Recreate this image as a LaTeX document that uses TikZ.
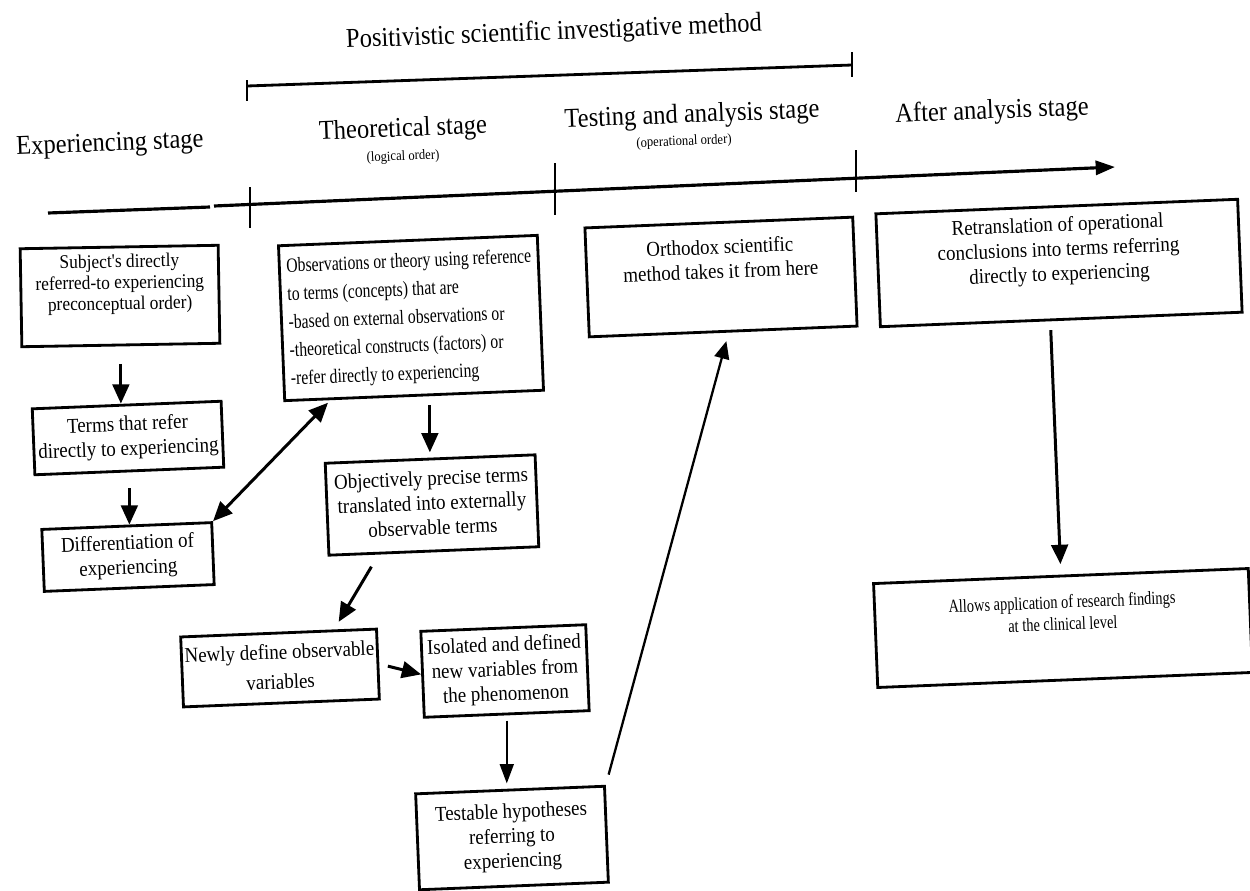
\documentclass[tikz,border=0pt]{standalone}
\usepackage{fontspec}
\setmainfont{Liberation Serif}
\newfontfamily\wideserif[FakeStretch=0.9]{Liberation Serif}
\newfontfamily\narrowserif[FakeStretch=0.78]{Liberation Serif}
\usetikzlibrary{arrows.meta,calc}
\newcommand{\boxlines}[2][0pt]{\begin{tabular}{@{}c@{}}#2\\[#1]\end{tabular}}
\newcommand{\leftlines}[1]{\begin{tabular}{@{}l@{}}#1\end{tabular}}
\tikzset{%
  stagelabel/.style={font=\wideserif\fontsize{15.5}{18}\selectfont, inner sep=0pt, rotate=2.3},%
  orderlabel/.style={font=\wideserif\fontsize{8}{9}\selectfont, inner sep=0pt, rotate=2.3},%
  stepbox/.style={draw, line width=1.6pt, inner sep=0pt, rotate=#1, font=\wideserif\fontsize{12}{14}\selectfont},%
  stepbox/.default=2.3,%
  flow/.style={line width=1.7pt, -{Triangle[length=11pt,width=9.5pt]}},%
  thinflow/.style={line width=0.9pt, -{Triangle[length=11pt,width=8pt]}},%
  longflow/.style={line width=1.3pt, -{Triangle[length=10pt,width=8.5pt]}},%
  axis/.style={line width=1.8pt},%
  tick/.style={line width=0.7pt}%
}
\begin{document}
\begin{tikzpicture}[x=0.2mm, y={(0mm,-0.2mm)}]%
\fill[white] (0,0) rectangle (1250,890);%
\useasboundingbox (0,0) rectangle (1250,890);%
\node[stagelabel] (method) at (554,33) {Positivistic scientific investigative method};%
\coordinate (method-l) at (247,86);%
\coordinate (method-r) at (852,65);%
\draw[line width=1.6pt] (method-l) -- (method-r);%
\draw[line width=1.1pt] ($(method-l)+(0,-6)$) -- ($(method-l)+(0,15)$);%
\draw[line width=1.1pt] ($(method-r)+(0,-13)$) -- ($(method-r)+(0,12)$);%
\node[stagelabel] (experiencing) at (110,145) {Experiencing stage};%
\node[stagelabel] (theoretical) at (403,130) {Theoretical stage};%
\node[orderlabel] (theoretical-order) at (403,157) {(logical order)};%
\node[stagelabel] (testing) at (692,116) {Testing and analysis stage};%
\node[orderlabel] (testing-order) at (684,142) {(operational order)};%
\node[stagelabel] (after) at (992,112) {After analysis stage};%
\coordinate (time-a) at (48,213);%
\coordinate (time-b) at (210,207);%
\coordinate (time-c) at (214,206);%
\coordinate (time-d) at (1115,167);%
\draw[axis] (time-a) -- (time-b);%
\draw[axis, -{Triangle[length=11pt,width=8pt]}] (time-c) -- (time-d);%
\foreach \x/\ya/\yb in {250/187/228, 555/163/215, 856/150/192} {%
  \draw[tick] (\x,\ya) -- (\x,\yb);%
}%
\node[stepbox=1, minimum width=39.6mm, minimum height=19.6mm, font=\wideserif\fontsize{11}{12}\selectfont] (subject) at (120,296) {\boxlines[13pt]{Subject's directly\\referred-to experiencing\\preconceptual order)}};%
\node[stepbox, minimum width=37.8mm, minimum height=13.2mm] (terms) at (128,438) {\boxlines{Terms that refer\\directly to experiencing}};%
\node[stepbox, minimum width=34mm, minimum height=12.4mm, font=\wideserif\fontsize{12}{14}\selectfont] (differ) at (128,557) {\boxlines{Differentiation of\\experiencing}};%
\node[stepbox, minimum width=51.8mm, minimum height=31mm, font=\narrowserif\fontsize{11.5}{16}\selectfont] (observ) at (411,318) {\leftlines{Observations or theory using reference\\to terms (concepts) that are\\-based on external observations or\\-theoretical constructs (factors) or\\-refer directly to experiencing}};%
\node[stepbox, minimum width=42mm, minimum height=18.4mm, font=\wideserif\fontsize{12}{14}\selectfont] (objective) at (432,505) {\boxlines{Objectively precise terms\\translated into externally\\observable terms}};%
\node[stepbox, minimum width=39.2mm, minimum height=14mm, font=\wideserif\fontsize{12}{17}\selectfont] (newly) at (280,668) {\boxlines{Newly define observable\\variables}};%
\node[stepbox, minimum width=33mm, minimum height=17.2mm, font=\wideserif\fontsize{12}{14}\selectfont] (isolated) at (505,671) {\boxlines{Isolated and defined\\new variables from\\the phenomenon}};%
\node[stepbox, minimum width=37.8mm, minimum height=19.2mm] (testable) at (512,838) {\boxlines{Testable hypotheses\\referring to\\experiencing}};%
\node[stepbox, minimum width=53.6mm, minimum height=21.8mm, font=\wideserif\fontsize{12}{14}\selectfont] (orthodox) at (721,277) {\boxlines[18pt]{Orthodox scientific\\method takes it from here}};%
\node[stepbox, minimum width=72.4mm, minimum height=22.6mm, font=\wideserif\fontsize{12}{14}\selectfont] (retranslation) at (1059,263) {\boxlines[13.6pt]{Retranslation of operational\\conclusions into terms referring\\directly to experiencing}};%
\node[stepbox, minimum width=75mm, minimum height=20.8mm, font=\narrowserif\fontsize{10.5}{12.5}\selectfont] (allows) at (1063,628) {\boxlines[15pt]{Allows application of research findings\\at the clinical level}};%
\coordinate (observ-out) at ($(observ.south west)!0.56!(observ.south east)$);%
\coordinate (observ-in) at ($(observ.south west)!0.18!(observ.south east)$);%
\coordinate (objective-out) at ($(objective.south west)!0.24!(objective.south east)$);%
\coordinate (newly-in) at ($(newly.north west)!0.78!(newly.north east)$);%
\coordinate (orthodox-in) at ($(orthodox.south west)!0.52!(orthodox.south east)$);%
\coordinate (retranslation-out) at ($(retranslation.south west)!0.47!(retranslation.south east)$);%
\draw[flow, shorten <=10pt] (subject.south) -- (subject.south |- terms.north);%
\draw[flow, shorten <=9pt] (terms.south) -- (terms.south |- differ.north);%
\draw[line width=1.7pt, {Triangle[length=11pt,width=9.5pt]}-{Triangle[length=11pt,width=9.5pt]}, shorten >=2pt] (differ.north east) -- (observ-in);%
\draw[flow, shorten <=5pt, shorten >=3pt] (observ-out) -- (observ-out |- objective.north);%
\draw[flow, shorten <=8pt, shorten >=5pt] (objective-out) -- (newly-in);%
\draw[flow, shorten <=5pt] (newly.east) -- (isolated.west);%
\draw[thinflow, shorten <=3pt, shorten >=3pt] (isolated.south) -- (isolated.south |- testable.north);%
\draw[longflow, shorten <=6pt, shorten >=5pt] (testable.north east) -- (orthodox-in);%
\draw[flow, shorten <=5pt, shorten >=6pt] (retranslation-out) -- (allows.north);%
\end{tikzpicture}
\end{document}
